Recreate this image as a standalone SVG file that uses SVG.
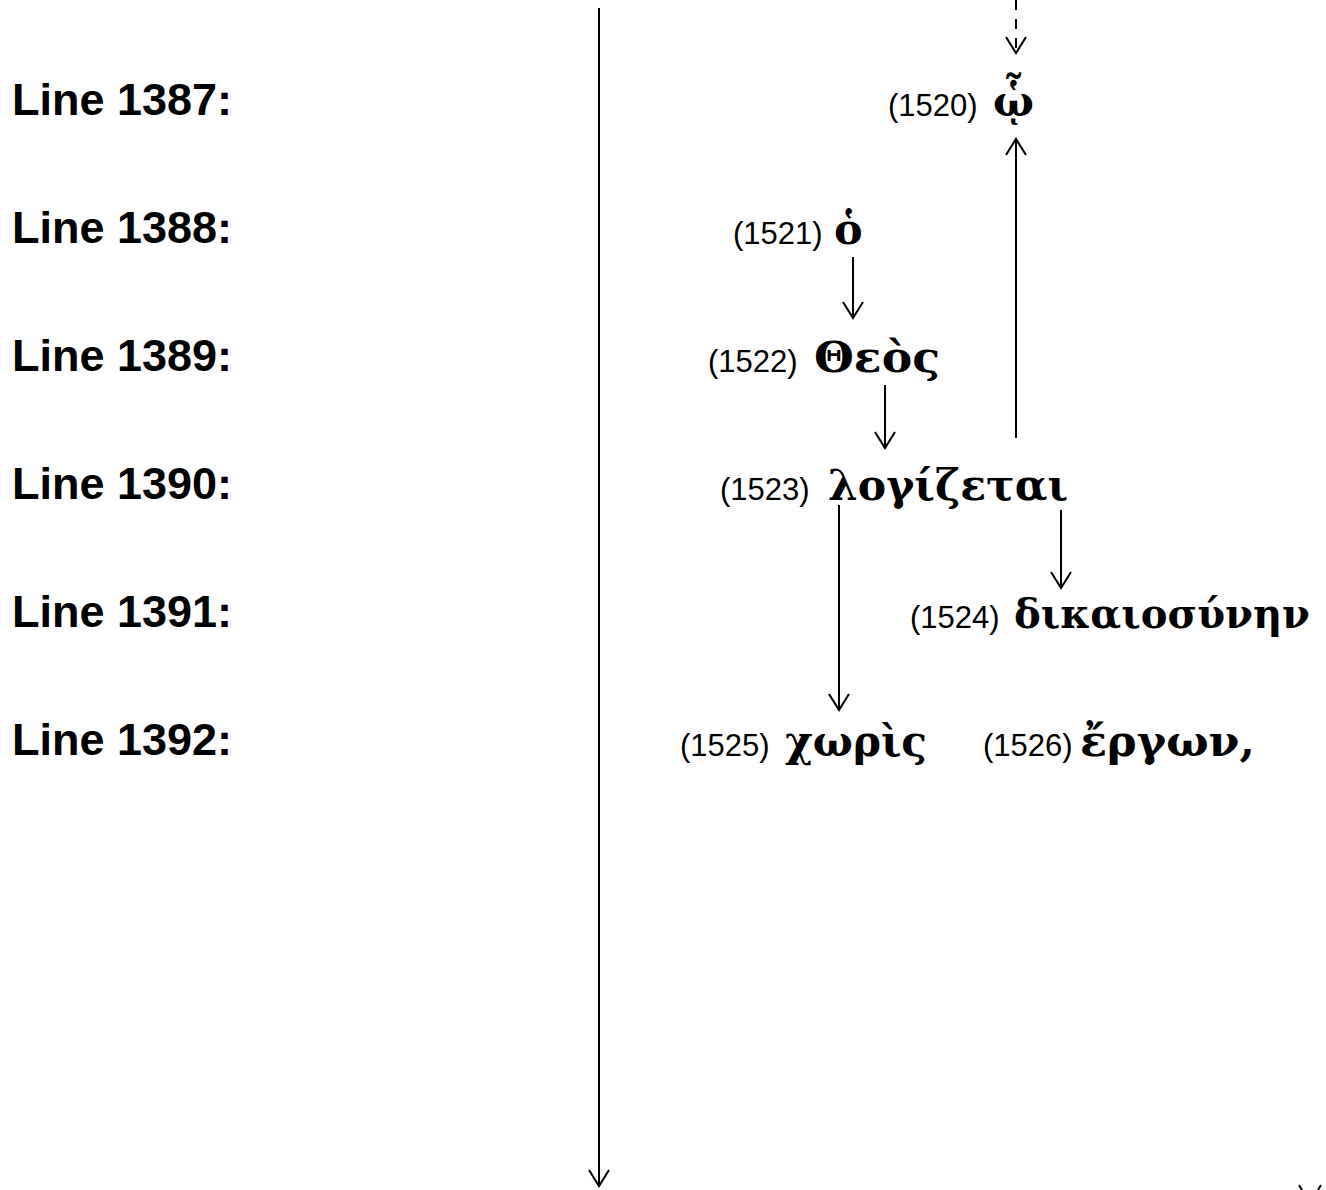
<svg xmlns="http://www.w3.org/2000/svg" width="1326" height="1190" viewBox="0 0 1326 1190">
<style>
.lbl{font-family:"Liberation Sans",Arial,sans-serif;font-weight:bold;font-size:45px;fill:#000}
.num{font-family:"Liberation Sans",Arial,sans-serif;font-size:31px;fill:#000}
.gk{font-family:"DejaVu Serif","Noto Sans",serif;font-weight:bold;font-size:43px;fill:#000}
.ln{stroke:#000;stroke-width:2;fill:none}
</style>
<defs>
<marker id="ah" markerUnits="userSpaceOnUse" markerWidth="22" markerHeight="24" refX="17" refY="11" orient="auto">
<path d="M1,1 L17,11 L1,21" fill="none" stroke="#000" stroke-width="2"/>
</marker>
</defs>
<rect width="1326" height="1190" fill="#fff"/>
<g id="labels">
<text class="lbl" x="12" y="115">Line 1387:</text>
<text class="lbl" x="12" y="243">Line 1388:</text>
<text class="lbl" x="12" y="371">Line 1389:</text>
<text class="lbl" x="12" y="499">Line 1390:</text>
<text class="lbl" x="12" y="627">Line 1391:</text>
<text class="lbl" x="12" y="755">Line 1392:</text>
</g>
<g id="n1520"><text class="num" x="888" y="116">(1520)</text><text class="gk" x="993" y="116">ᾧ</text></g>
<g id="n1521"><text class="num" x="733" y="244">(1521)</text><text class="gk" x="834" y="244">ὁ</text></g>
<g id="n1522"><text class="num" x="708" y="372">(1522)</text><text class="gk" x="814" y="372" textLength="126" lengthAdjust="spacingAndGlyphs">Θεὸς</text></g>
<g id="n1523"><text class="num" x="720" y="500">(1523)</text><text class="gk" x="828" y="500" textLength="240" lengthAdjust="spacingAndGlyphs">λογίζεται</text></g>
<g id="n1524"><text class="num" x="910" y="628">(1524)</text><text class="gk" x="1014" y="628" style="font-size:41px" textLength="296" lengthAdjust="spacingAndGlyphs">δικαιοσύνην</text></g>
<g id="n1525"><text class="num" x="680" y="756">(1525)</text><text class="gk" x="785" y="756" textLength="142" lengthAdjust="spacingAndGlyphs">χωρὶς</text></g>
<g id="n1526"><text class="num" x="983" y="756">(1526)</text><text class="gk" x="1080" y="756" textLength="175" lengthAdjust="spacingAndGlyphs">ἔργων,</text></g>
<g id="connectors">
<line class="ln" x1="599" y1="8" x2="599" y2="1186" marker-end="url(#ah)"/>
<line class="ln" x1="1016" y1="0" x2="1016" y2="53" stroke-dasharray="10,9" marker-end="url(#ah)"/>
<line class="ln" x1="1016" y1="438" x2="1016" y2="139" marker-end="url(#ah)"/>
<line class="ln" x1="853" y1="257" x2="853" y2="318" marker-end="url(#ah)"/>
<line class="ln" x1="885" y1="385" x2="885" y2="448" marker-end="url(#ah)"/>
<line class="ln" x1="839" y1="505" x2="839" y2="710" marker-end="url(#ah)"/>
<line class="ln" x1="1061" y1="510" x2="1061" y2="588" marker-end="url(#ah)"/>
<path class="ln" d="M1299,1185 L1302,1190 M1321,1185 L1318,1190"/>
</g>
</svg>
